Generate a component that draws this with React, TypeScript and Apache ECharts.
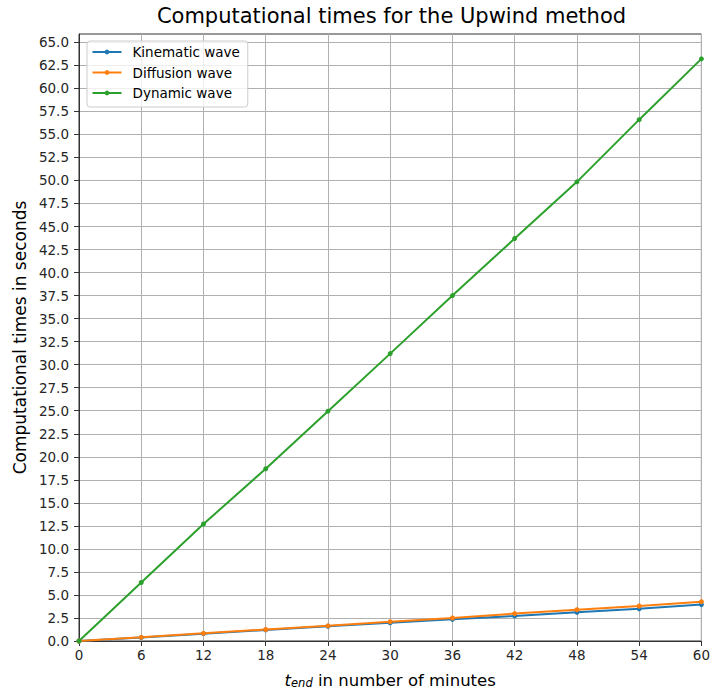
import React, { useEffect, useRef } from "react";
import * as echarts from "echarts";

const minutes = [0, 6, 12, 18, 24, 30, 36, 42, 48, 54, 60];
const kinematic = [0, 0.38, 0.8, 1.2, 1.6, 1.98, 2.35, 2.72, 3.12, 3.5, 3.95];
const diffusion = [0, 0.4, 0.83, 1.25, 1.65, 2.1, 2.5, 2.98, 3.4, 3.8, 4.27];
const dynamic = [0, 6.35, 12.7, 18.7, 24.95, 31.2, 37.5, 43.7, 49.85, 56.6, 63.2];
const xTicks = [0, 6, 12, 18, 24, 30, 36, 42, 48, 54, 60];
const yTicks = [
  0, 2.5, 5, 7.5, 10, 12.5, 15, 17.5, 20, 22.5, 25, 27.5, 30, 32.5, 35, 37.5,
  40, 42.5, 45, 47.5, 50, 52.5, 55, 57.5, 60, 62.5, 65,
];
const seriesNames = ["Kinematic wave", "Diffusion wave", "Dynamic wave"];
const colors = ["#1f77b4", "#ff7f0e", "#2ca02c"];

const FONT = "DejaVu Sans";

export default function App() {
  const ref = useRef<HTMLDivElement>(null);
  useEffect(() => {
    if (!ref.current) return;
    const chart = echarts.init(ref.current, undefined, { renderer: "svg" });
    const values = [kinematic, diffusion, dynamic];
    chart.setOption({
      animation: false,
      backgroundColor: "#ffffff",
      textStyle: { fontFamily: FONT },
      graphic: [
        {
          type: "text",
          x: 391.5,
          y: 16,
          style: {
            text: "Computational times for the Upwind method",
            align: "center",
            verticalAlign: "middle",
            font: `21px "${FONT}"`,
            fill: "#000000",
          },
        },
      ],
      grid: {
        left: 79,
        right: 9,
        top: 34,
        bottom: 54,
        show: true,
        borderColor: "#333333",
        borderWidth: 1,
        backgroundColor: "transparent",
      },
      legend: {
        orient: "vertical",
        left: 87,
        top: 41,
        data: seriesNames,
        itemWidth: 29,
        itemHeight: 6,
        itemGap: 6.5,
        padding: [4, 8, 7, 4.5],
        borderColor: "#cccccc",
        borderWidth: 1,
        borderRadius: 3,
        backgroundColor: "rgba(255,255,255,0.8)",
        textStyle: {
          fontFamily: FONT,
          fontSize: 13.5,
          color: "#000000",
          lineHeight: 14,
          padding: [0, 0, 0, 6],
        },
      },
      xAxis: {
        type: "value",
        min: 0,
        max: 60,
        interval: 6,
        name: "{t|t}{sub|end}{n| in number of minutes}",
        nameLocation: "middle",
        nameGap: 28,
        nameTextStyle: {
          rich: {
            t: { fontFamily: FONT, fontSize: 16.5, fontStyle: "italic", color: "#000", verticalAlign: "bottom", lineHeight: 20 },
            sub: { fontFamily: FONT, fontSize: 11.5, fontStyle: "italic", color: "#000", verticalAlign: "bottom", lineHeight: 14 },
            n: { fontFamily: FONT, fontSize: 16.5, color: "#000", verticalAlign: "bottom", lineHeight: 20 },
          },
        },
        axisLine: { show: true, lineStyle: { color: "#333333", width: 1 } },
        axisTick: { show: true, length: 5, lineStyle: { color: "#333333" }, customValues: xTicks },
        axisLabel: {
          customValues: xTicks,
          margin: 7,
          fontFamily: FONT,
          fontSize: 13.5,
          color: "#262626",
          formatter: (v: number) => String(v),
        },
        splitLine: { show: true, lineStyle: { color: "#b0b0b0", width: 1 } },
      },
      yAxis: {
        type: "value",
        min: 0,
        max: 65.9,
        interval: 2.5,
        name: "Computational times in seconds",
        nameLocation: "middle",
        nameGap: 48,
        nameTextStyle: { fontFamily: FONT, fontSize: 17, color: "#000" },
        axisLine: { show: true, lineStyle: { color: "#333333", width: 1 } },
        axisTick: { show: true, length: 5, lineStyle: { color: "#333333" }, customValues: yTicks },
        axisLabel: {
          customValues: yTicks,
          margin: 10,
          fontFamily: FONT,
          fontSize: 13.5,
          color: "#262626",
          formatter: (v: number) => v.toFixed(1),
        },
        splitLine: { show: true, lineStyle: { color: "#b0b0b0", width: 1 } },
      },
      series: seriesNames.map((name, i) => ({
        name,
        type: "line",
        data: minutes.map((m, j) => [m, values[i][j]]),
        symbol: "circle",
        symbolSize: 5,
        showSymbol: true,
        color: colors[i],
        lineStyle: { width: 2, color: colors[i] },
        itemStyle: { color: colors[i] },
        clip: false,
      })),
    });
    return () => chart.dispose();
  }, []);
  return (
    <div
      ref={ref}
      style={{ position: "fixed", left: 0, top: 0, width: 713, height: 695 }}
    />
  );
}
